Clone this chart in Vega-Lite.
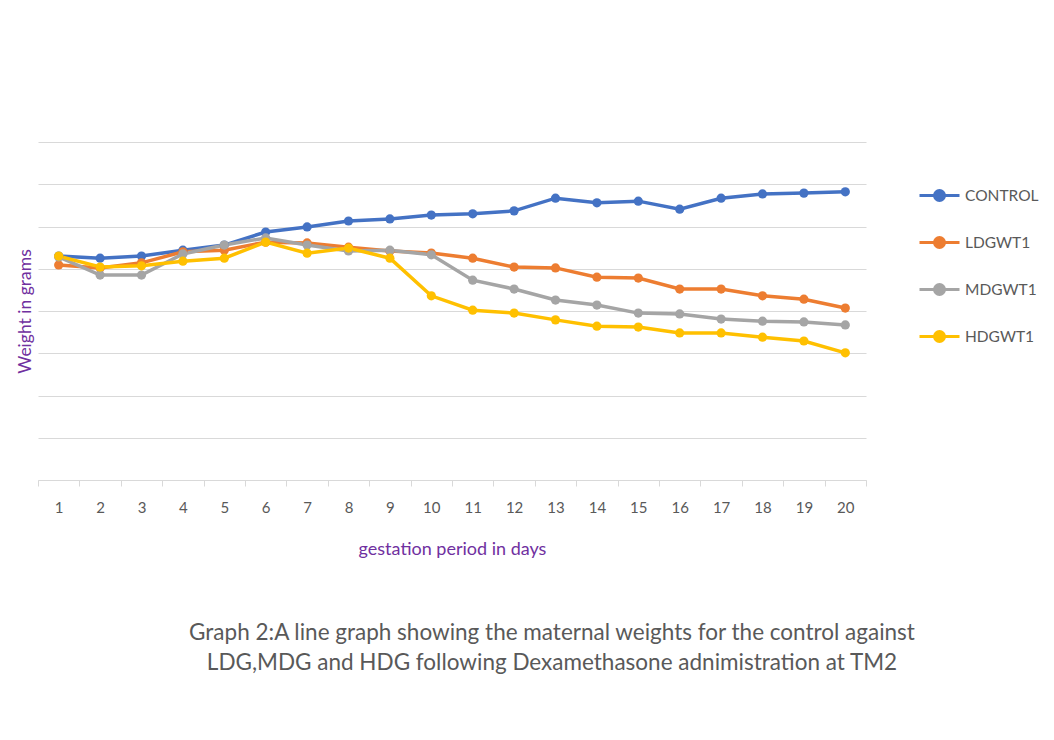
{
  "$schema": "https://vega.github.io/schema/vega-lite/v6.json",
  "width": 828,
  "height": 338,
  "autosize": {"type": "none"},
  "padding": {"left": 38, "top": 142, "right": 188, "bottom": 260},
  "background": "white",
  "data": {"values": [
    {"day": 1, "series": "CONTROL", "weight": 5.30},
    {"day": 2, "series": "CONTROL", "weight": 5.25},
    {"day": 3, "series": "CONTROL", "weight": 5.30},
    {"day": 4, "series": "CONTROL", "weight": 5.44},
    {"day": 5, "series": "CONTROL", "weight": 5.56},
    {"day": 6, "series": "CONTROL", "weight": 5.87},
    {"day": 7, "series": "CONTROL", "weight": 5.99},
    {"day": 8, "series": "CONTROL", "weight": 6.13},
    {"day": 9, "series": "CONTROL", "weight": 6.18},
    {"day": 10, "series": "CONTROL", "weight": 6.27},
    {"day": 11, "series": "CONTROL", "weight": 6.30},
    {"day": 12, "series": "CONTROL", "weight": 6.37},
    {"day": 13, "series": "CONTROL", "weight": 6.67},
    {"day": 14, "series": "CONTROL", "weight": 6.56},
    {"day": 15, "series": "CONTROL", "weight": 6.60},
    {"day": 16, "series": "CONTROL", "weight": 6.41},
    {"day": 17, "series": "CONTROL", "weight": 6.67},
    {"day": 18, "series": "CONTROL", "weight": 6.77},
    {"day": 19, "series": "CONTROL", "weight": 6.79},
    {"day": 20, "series": "CONTROL", "weight": 6.82},
    {"day": 1, "series": "LDGWT1", "weight": 5.09},
    {"day": 2, "series": "LDGWT1", "weight": 5.02},
    {"day": 3, "series": "LDGWT1", "weight": 5.14},
    {"day": 4, "series": "LDGWT1", "weight": 5.40},
    {"day": 5, "series": "LDGWT1", "weight": 5.44},
    {"day": 6, "series": "LDGWT1", "weight": 5.63},
    {"day": 7, "series": "LDGWT1", "weight": 5.61},
    {"day": 8, "series": "LDGWT1", "weight": 5.51},
    {"day": 9, "series": "LDGWT1", "weight": 5.42},
    {"day": 10, "series": "LDGWT1", "weight": 5.37},
    {"day": 11, "series": "LDGWT1", "weight": 5.25},
    {"day": 12, "series": "LDGWT1", "weight": 5.04},
    {"day": 13, "series": "LDGWT1", "weight": 5.02},
    {"day": 14, "series": "LDGWT1", "weight": 4.80},
    {"day": 15, "series": "LDGWT1", "weight": 4.78},
    {"day": 16, "series": "LDGWT1", "weight": 4.52},
    {"day": 17, "series": "LDGWT1", "weight": 4.52},
    {"day": 18, "series": "LDGWT1", "weight": 4.36},
    {"day": 19, "series": "LDGWT1", "weight": 4.28},
    {"day": 20, "series": "LDGWT1", "weight": 4.07},
    {"day": 1, "series": "MDGWT1", "weight": 5.28},
    {"day": 2, "series": "MDGWT1", "weight": 4.85},
    {"day": 3, "series": "MDGWT1", "weight": 4.85},
    {"day": 4, "series": "MDGWT1", "weight": 5.35},
    {"day": 5, "series": "MDGWT1", "weight": 5.56},
    {"day": 6, "series": "MDGWT1", "weight": 5.73},
    {"day": 7, "series": "MDGWT1", "weight": 5.56},
    {"day": 8, "series": "MDGWT1", "weight": 5.42},
    {"day": 9, "series": "MDGWT1", "weight": 5.44},
    {"day": 10, "series": "MDGWT1", "weight": 5.33},
    {"day": 11, "series": "MDGWT1", "weight": 4.73},
    {"day": 12, "series": "MDGWT1", "weight": 4.52},
    {"day": 13, "series": "MDGWT1", "weight": 4.26},
    {"day": 14, "series": "MDGWT1", "weight": 4.14},
    {"day": 15, "series": "MDGWT1", "weight": 3.95},
    {"day": 16, "series": "MDGWT1", "weight": 3.93},
    {"day": 17, "series": "MDGWT1", "weight": 3.81},
    {"day": 18, "series": "MDGWT1", "weight": 3.76},
    {"day": 19, "series": "MDGWT1", "weight": 3.74},
    {"day": 20, "series": "MDGWT1", "weight": 3.67},
    {"day": 1, "series": "HDGWT1", "weight": 5.30},
    {"day": 2, "series": "HDGWT1", "weight": 5.04},
    {"day": 3, "series": "HDGWT1", "weight": 5.07},
    {"day": 4, "series": "HDGWT1", "weight": 5.18},
    {"day": 5, "series": "HDGWT1", "weight": 5.25},
    {"day": 6, "series": "HDGWT1", "weight": 5.63},
    {"day": 7, "series": "HDGWT1", "weight": 5.37},
    {"day": 8, "series": "HDGWT1", "weight": 5.49},
    {"day": 9, "series": "HDGWT1", "weight": 5.25},
    {"day": 10, "series": "HDGWT1", "weight": 4.36},
    {"day": 11, "series": "HDGWT1", "weight": 4.02},
    {"day": 12, "series": "HDGWT1", "weight": 3.95},
    {"day": 13, "series": "HDGWT1", "weight": 3.79},
    {"day": 14, "series": "HDGWT1", "weight": 3.64},
    {"day": 15, "series": "HDGWT1", "weight": 3.62},
    {"day": 16, "series": "HDGWT1", "weight": 3.48},
    {"day": 17, "series": "HDGWT1", "weight": 3.48},
    {"day": 18, "series": "HDGWT1", "weight": 3.38},
    {"day": 19, "series": "HDGWT1", "weight": 3.29},
    {"day": 20, "series": "HDGWT1", "weight": 3.01}
  ]},
  "title": {
    "text": ["Graph 2:A line graph showing  the maternal weights for the control against", "LDG,MDG and HDG following Dexamethasone adnimistration at TM2"],
    "orient": "bottom",
    "anchor": "middle",
    "dx": 100,
    "offset": 64,
    "font": "Lato",
    "fontSize": 22.5,
    "fontWeight": "normal",
    "color": "#595959",
    "lineHeight": 30
  },
  "encoding": {
    "x": {
      "field": "day",
      "type": "ordinal",
      "bandPosition": 0.5,
      "scale": {"type": "band", "paddingInner": 0, "paddingOuter": 0},
      "axis": {
        "title": "gestation period in days",
        "titleColor": "#7030A0",
        "titleFont": "Lato",
        "titleFontSize": 18,
        "titleFontWeight": "normal",
        "titlePadding": 25,
        "labelAngle": 0,
        "labelColor": "#595959",
        "labelFont": "Lato",
        "labelFontSize": 15,
        "labelPadding": 14,
        "domainColor": "#d9d9d9",
        "domainWidth": 1.2,
        "tickColor": "#d9d9d9",
        "tickSize": 6,
        "tickBand": "extent",
        "grid": false
      }
    },
    "y": {
      "field": "weight",
      "type": "quantitative",
      "scale": {"domain": [0, 8], "nice": false},
      "axis": {
        "title": "Weight in grams",
        "titleColor": "#7030A0",
        "titleFont": "Lato",
        "titleFontSize": 17.5,
        "titleFontWeight": "normal",
        "titlePadding": 4,
        "values": [0, 1, 2, 3, 4, 5, 6, 7, 8],
        "labels": false,
        "ticks": false,
        "domain": false,
        "grid": true,
        "gridColor": "#d9d9d9",
        "gridWidth": 1.2
      }
    },
    "color": {
      "field": "series",
      "type": "nominal",
      "scale": {
        "domain": ["CONTROL", "LDGWT1", "MDGWT1", "HDGWT1"],
        "range": ["#4472C4", "#ED7D31", "#A5A5A5", "#FFC000"]
      },
      "legend": {
        "title": null,
        "orient": "none",
        "legendX": 880,
        "legendY": 32,
        "symbolType": "M-1,0H1M0.25,0A0.25,0.25,0,1,1,-0.25,0A0.25,0.25,0,1,1,0.25,0Z",
        "symbolSize": 1600,
        "symbolStrokeWidth": 3,
        "labelFont": "Lato",
        "labelFontSize": 15.5,
        "labelColor": "#595959",
        "labelOffset": 4,
        "rowPadding": 14
      }
    }
  },
  "layer": [
    {"mark": {"type": "line", "strokeWidth": 3.5}},
    {"mark": {"type": "point", "filled": true, "size": 85, "opacity": 1}}
  ],
  "config": {"view": {"stroke": null}}
}
